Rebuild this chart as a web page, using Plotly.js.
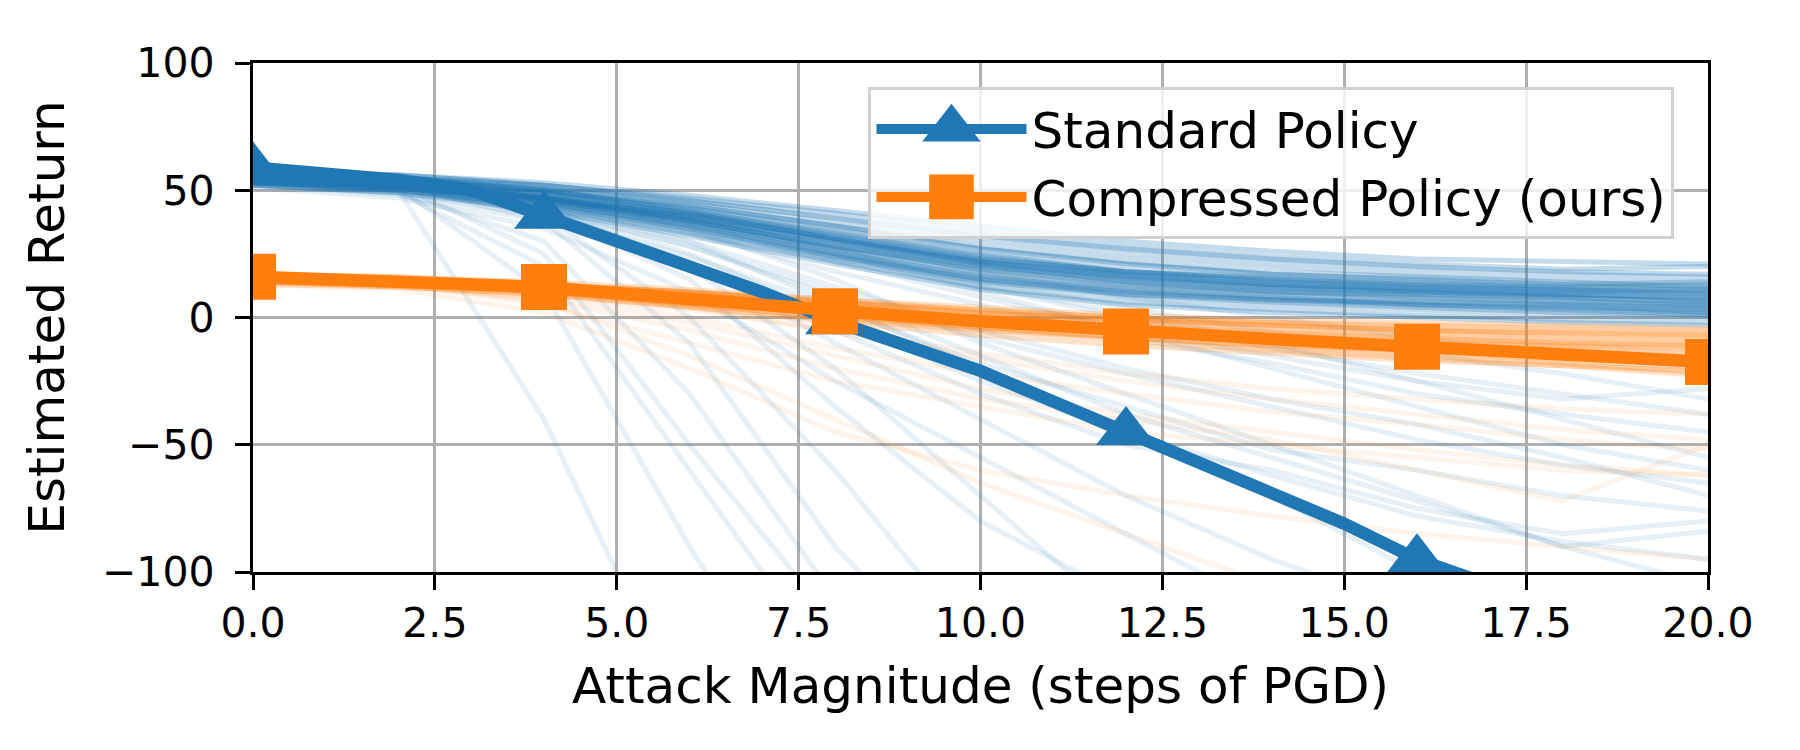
<!DOCTYPE html>
<html>
<head>
<meta charset="utf-8">
<script src="https://cdn.plot.ly/plotly-3.0.1.min.js"></script>
<style>
    html, body { margin: 0; padding: 0; background: #ffffff; }
    #chart { width: 1800px; height: 750px; }
</style>
</head>
<body>
<div id="chart"></div>
<script>
// mean curves, one value per PGD step
const ATTACK_STEPS = [0, 1, 2, 3, 4, 5, 6, 7, 8, 9, 10, 11, 12, 13, 14, 15, 16, 17, 18, 19, 20];
const STANDARD_MEAN = [59, 56.5, 54, 50, 40, 30, 20, 10, -1.5, -11, -21, -33, -45, -57, -69, -81, -95, -105, -115, -125, -135];
const COMPRESSED_MEAN = [16, 15, 14, 13, 12, 9.5, 7, 4.5, 2.5, 0.5, -1.5, -3.5, -5.5, -7, -8.5, -10, -11.5, -13, -14.5, -16, -17.5];

// individual runs, sampled every 2 steps
const RUN_STEPS = [0, 2, 4, 6, 8, 10, 12, 14, 16, 18, 20];

const STANDARD_RUNS = [
    [58, 56, 52, 46, 39, 32, 27, 23, 20, 18, 17],
    [56, 54, 49, 41, 31, 22, 16, 13, 11, 9, 8],
    [55, 53, 47, 38, 28, 19, 13, 10, 8, 6, 5],
    [57, 55, 51, 45, 37, 30, 24, 20, 17, 15, 14],
    [54, 52, 46, 37, 26, 16, 10, 7, 5, 3, 2],
    [53, 51, 45, 36, 25, 15, 9, 6, 4, 2, 1],
    [56, 55, 52, 47, 41, 34, 28, 24, 21, 19, 20],
    [55, 53, 47, 38, 27, 17, 11, 8, 5, 3, 1],
    [57, 54, 48, 40, 30, 21, 16, 13, 11, 10, 9],
    [52, 50, 44, 35, 24, 14, 8, 5, 3, 1, 0],
    [58, 56, 53, 48, 42, 36, 30, 26, 23, 22, 21],
    [54, 52, 47, 39, 29, 20, 14, 11, 9, 8, 6],
    [56, 54, 50, 43, 34, 25, 19, 15, 13, 11, 10],
    [53, 50, 43, 33, 22, 12, 6, 3, 1, -1, -2],
    [55, 54, 50, 44, 36, 28, 22, 18, 16, 14, 12],
    [57, 55, 49, 41, 31, 21, 15, 12, 10, 8, 7],
    [54, 51, 45, 36, 25, 16, 11, 8, 6, 4, 3],
    [56, 53, 47, 39, 30, 22, 17, 14, 12, 11, 10],
    [55, 53, 48, 41, 32, 23, 17, 13, 11, 9, 7],
    [53, 51, 46, 38, 28, 19, 13, 10, 8, 6, 5],
    [58, 55, 50, 42, 33, 24, 18, 15, 13, 12, 11],
    [52, 49, 42, 32, 21, 11, 5, 2, 0, -2, -3],
    [56, 54, 50, 44, 36, 27, 21, 17, 15, 13, 12],
    [54, 52, 47, 40, 31, 22, 16, 12, 10, 8, 6],
    [57, 56, 52, 46, 39, 32, 26, 22, 19, 17, 16],
    [55, 52, 45, 35, 24, 15, 10, 7, 5, 4, 3],
    [53, 52, 47, 40, 31, 23, 18, 15, 13, 11, 9],
    [56, 53, 46, 37, 27, 18, 12, 9, 7, 5, 2],
    [54, 53, 49, 43, 35, 27, 21, 17, 15, 13, 14],
    [57, 54, 47, 38, 28, 20, 15, 12, 10, 9, 8],
    [55, 52, 46, 39, 30, 21, 14, 10, 9, 7, 4],
    [53, 51, 47, 41, 33, 25, 18, 14, 12, 10, 11],
    [57, 55, 50, 42, 32, 23, 18, 16, 14, 12, 13],
    [54, 51, 44, 34, 23, 14, 9, 7, 6, 5, 4]
];

const STANDARD_FAILING_RUNS = [
    [53, 50, -40, -160, -200, -200, -200, -200, -200, -200, -200],
    [55, 51, 10, -90, -180, -200, -200, -200, -200, -200, -200],
    [52, 49, 30, -30, -110, -180, -200, -200, -200, -200, -200],
    [54, 52, 40, 0, -60, -130, -200, -200, -200, -200, -200],
    [56, 53, 44, 20, -20, -70, -120, -180, -200, -200, -200],
    [51, 47, 35, 10, -25, -55, -85, -115, -150, -200, -200],
    [55, 52, 45, 30, 5, -20, -45, -70, -100, -130, -160],
    [53, 51, 46, 35, 15, -10, -30, -50, -70, -90, -105],
    [54, 52, 47, 38, 25, 10, -5, -20, -35, -50, -60],
    [52, 50, 44, 33, 18, 5, -8, -18, -30, -38, -45],
    [56, 54, 49, 40, 27, 12, 0, -12, -22, -30, -38],
    [53, 50, 42, 28, 10, -8, -22, -35, -48, -58, -65],
    [55, 52, 46, 36, 22, 8, -5, -15, -25, -32, -28],
    [54, 51, 43, 25, 0, -25, -45, -62, -78, -88, -95],
    [52, 48, 38, 20, -5, -30, -50, -60, -75, -85, -80],
    [57, 55, 50, 42, 30, 18, 8, 0, -8, -15, -20],
    [53, 49, 20, -60, -140, -200, -200, -200, -200, -200, -200],
    [55, 52, 38, -10, -90, -150, -200, -200, -200, -200, -200],
    [54, 50, 42, 22, -10, -40, -70, -95, -115, -150, -200],
    [56, 53, 47, 37, 24, 12, 2, -10, -25, -40, -55],
    [52, 49, 43, 30, 12, -5, -20, -32, -42, -55, -70],
    [55, 53, 48, 39, 26, 14, 4, -6, -14, -22, -32],
    [54, 52, 25, -50, -120, -200, -200, -200, -200, -200, -200],
    [53, 50, 41, 15, -35, -80, -110, -150, -200, -200, -200],
    [55, 51, 43, 28, 8, -15, -38, -55, -72, -90, -84],
    [52, 49, 40, 24, 4, -18, -35, -52, -60, -70, -76]
];

const COMPRESSED_RUNS = [
    [16, 15, 13, 10, 6, 2, -1, -3, -5, -6, -7],
    [15, 14, 12, 8, 4, 0, -3, -5, -7, -9, -10],
    [17, 16, 14, 11, 7, 3, 0, -2, -4, -5, -6],
    [14, 13, 10, 6, 1, -3, -6, -8, -10, -11, -12],
    [16, 15, 12, 8, 3, -1, -4, -7, -9, -11, -13],
    [15, 14, 13, 10, 7, 4, 1, -1, -2, -3, -4],
    [13, 12, 9, 4, -1, -5, -8, -11, -13, -15, -16],
    [16, 15, 13, 9, 5, 1, -2, -4, -6, -8, -9],
    [15, 13, 10, 5, 0, -4, -8, -11, -14, -17, -20],
    [17, 16, 13, 9, 4, 0, -3, -6, -8, -10, -11],
    [14, 13, 11, 7, 3, -1, -4, -6, -8, -10, -11],
    [16, 14, 11, 6, 1, -4, -8, -12, -15, -18, -22],
    [15, 15, 13, 10, 6, 2, -1, -3, -5, -7, -8],
    [16, 15, 12, 7, 2, -2, -5, -8, -10, -12, -14],
    [14, 12, 9, 4, -2, -7, -11, -14, -17, -19, -21],
    [15, 14, 12, 9, 5, 2, -1, -3, -5, -6, -7],
    [17, 15, 12, 8, 3, -1, -5, -8, -11, -13, -15],
    [15, 14, 11, 7, 2, -2, -6, -9, -12, -14, -16],
    [16, 15, 13, 10, 6, 3, 0, -2, -3, -4, -5],
    [14, 13, 10, 5, 0, -5, -9, -13, -16, -19, -23]
];

const COMPRESSED_FAILING_RUNS = [
    [15, 13, 5, -10, -25, -35, -45, -50, -55, -60, -62],
    [14, 12, 8, -2, -15, -28, -38, -45, -52, -58, -62],
    [16, 14, 10, 0, -12, -22, -30, -37, -42, -48, -52],
    [13, 11, 2, -20, -45, -60, -70, -78, -85, -90, -95],
    [15, 13, 9, 3, -5, -14, -22, -28, -32, -36, -38],
    [16, 14, 6, -15, -40, -65, -85, -105, -130, -150, -170],
    [14, 12, 7, -5, -20, -32, -40, -48, -60, -72, -50],
    [15, 14, 11, 4, -6, -16, -25, -32, -38, -44, -48]
];

const X_TICKS = [0, 2.5, 5, 7.5, 10, 12.5, 15, 17.5, 20];
const Y_TICKS = [-100, -50, 0, 50, 100];

const BLUE = "#1f77b4";
const ORANGE = "#ff7f0e";
const FONT = "DejaVu Sans, Liberation Sans, sans-serif";
const DIV = document.querySelector("#chart");
const CONFIG = { displayModeBar: false, responsive: false };

function faintTraces(runs, color, opacity) {
    return runs.map(values => ({
        x: RUN_STEPS,
        y: values,
        type: "scatter",
        mode: "lines",
        line: { color: color, width: 5 },
        opacity: opacity,
        showlegend: false,
        hoverinfo: "skip"
    }));
}

// markers only on every 4th step, like matplotlib's markevery
function markEvery(steps, size) {
    return steps.map(s => (s % 4 === 0 ? size : 0));
}

function render() {

    let standard = {
        x: ATTACK_STEPS,
        y: STANDARD_MEAN,
        name: "Standard Policy",
        type: "scatter",
        mode: "lines+markers",
        line: { color: BLUE, width: 12.5 },
        marker: { symbol: "triangle-up", color: BLUE, opacity: 1, line: { width: 0 }, size: markEvery(ATTACK_STEPS, 52) }
    };

    let compressed = {
        x: ATTACK_STEPS,
        y: COMPRESSED_MEAN,
        name: "Compressed Policy (ours)",
        type: "scatter",
        mode: "lines+markers",
        line: { color: ORANGE, width: 12.5 },
        marker: { symbol: "square", color: ORANGE, opacity: 1, line: { width: 0 }, size: markEvery(ATTACK_STEPS, 46) }
    };

    let data = [].concat(
        faintTraces(STANDARD_RUNS, BLUE, 0.26),
        faintTraces(STANDARD_FAILING_RUNS, BLUE, 0.1),
        faintTraces(COMPRESSED_RUNS, ORANGE, 0.22),
        faintTraces(COMPRESSED_FAILING_RUNS, ORANGE, 0.08),
        [ standard, compressed ]
    );

    let axis = {
        showgrid: true,
        gridcolor: "#b0b0b0",
        gridwidth: 3,
        zeroline: false,
        showline: true,
        linecolor: "#000000",
        linewidth: 3.4,
        mirror: true,
        ticks: "outside",
        ticklen: 15,
        tickwidth: 3.4,
        tickcolor: "#000000",
        tickfont: { family: FONT, size: 41, color: "#000000" }
    };

    let layout = {
        width: 1800,
        height: 750,
        margin: { l: 253, r: 92, t: 63, b: 178 },
        paper_bgcolor: "#ffffff",
        plot_bgcolor: "#ffffff",
        font: { family: FONT, color: "#000000" },
        showlegend: true,
        xaxis: Object.assign({}, axis, {
            range: [0, 20],
            tickmode: "array",
            tickvals: X_TICKS,
            ticktext: X_TICKS.map(v => v.toFixed(1)),
            ticklabelstandoff: -2,
            title: { text: "Attack Magnitude (steps of PGD)", font: { family: FONT, size: 50 }, standoff: 22 }
        }),
        yaxis: Object.assign({}, axis, {
            range: [-100, 100],
            tickmode: "array",
            tickvals: Y_TICKS,
            ticktext: Y_TICKS.map(v => (v < 0 ? "\u2212" + Math.abs(v) : String(v))),
            ticklabelstandoff: 12,
            title: { text: "Estimated Return", font: { family: FONT, size: 50 }, standoff: 22 }
        }),
        legend: {
            x: 0.423,
            y: 0.953,
            xanchor: "left",
            yanchor: "top",
            bgcolor: "rgba(255,255,255,0.8)",
            bordercolor: "#d0d0d0",
            borderwidth: 3,
            itemwidth: 150,
            font: { family: FONT, size: 50, color: "#000000" }
        }
    };

    Plotly.newPlot(DIV, data, layout, CONFIG).then(() => {
        // plotly caps legend marker size at 16px; grow them to the plot's marker size
        DIV.querySelectorAll(".legend .legendpoints path.scatterpts").forEach(p => {
            let t = p.getAttribute("transform") || "";
            p.setAttribute("transform", t + " scale(3.4)");
        });
    });
}

render();
</script>
</body>
</html>
